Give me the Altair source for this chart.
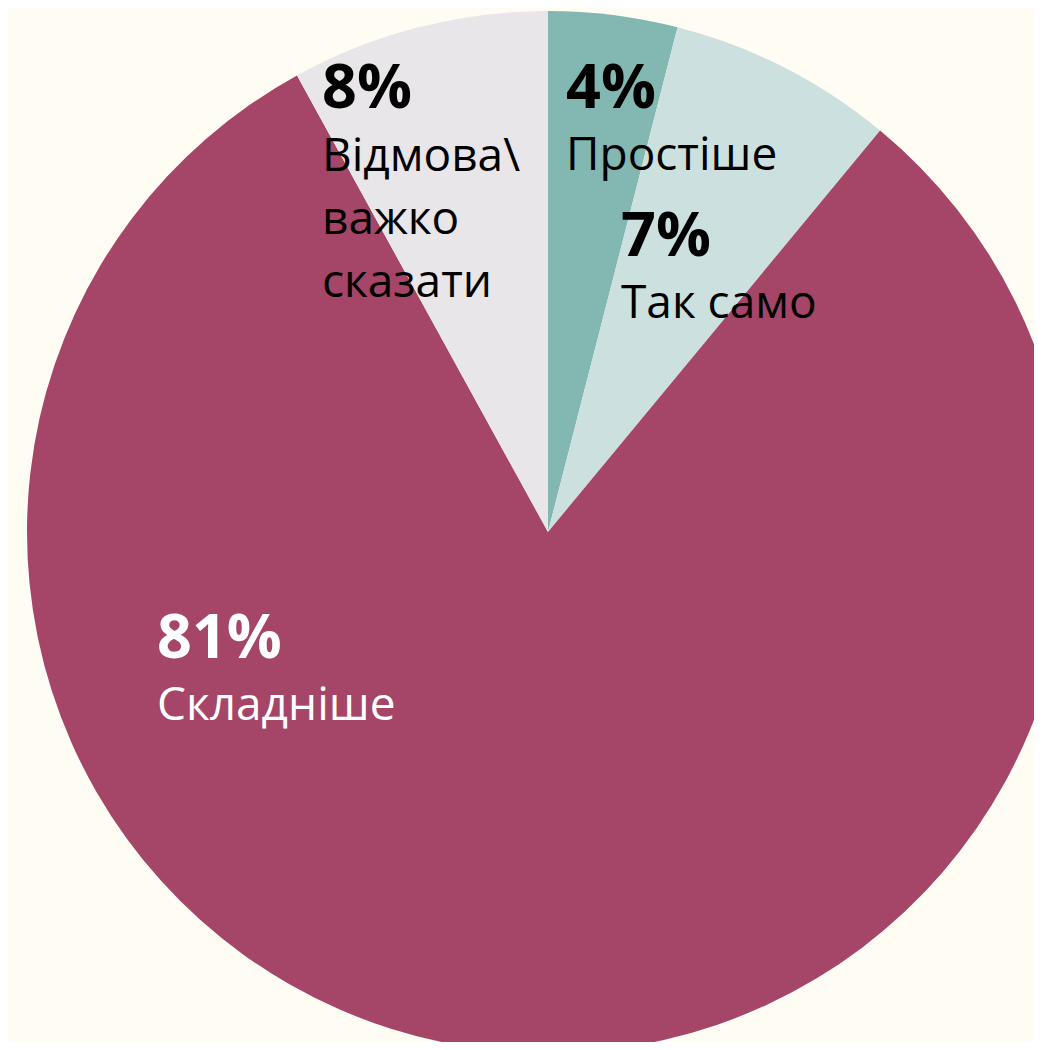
import altair as alt
import pandas as pd

categories = ["Простіше", "Так само", "Складніше", "Відмова\\ важко сказати"]
label_lines = ["Простіше", "Так само", "Складніше", "Відмова\\\nважко\nсказати"]
values = [4, 7, 81, 8]
slice_colors = ["#82b7b2", "#cce0df", "#a54568", "#e8e6e8"]
text_colors = ["#000000", "#000000", "#ffffff", "#000000"]

df = pd.DataFrame({
    "category": categories,
    "label": label_lines,
    "value": values,
    "order": list(range(len(categories))),
})

FONT = "Open Sans"
CX, CY, R = 540, 524, 521

base = alt.Chart(df).transform_calculate(pct="datum.value + '%'")

pie = base.mark_arc(radius=R, stroke=None).encode(
    theta=alt.Theta("value:Q", stack=True),
    order=alt.Order("order:Q"),
    color=alt.Color("category:N", scale=alt.Scale(domain=categories, range=slice_colors), legend=None),
    x=alt.value(CX),
    y=alt.value(CY),
)

# annotation anchor points (left edge, baseline) for each category's label block
anchors = {0: (558, 100, 162), 1: (613, 248, 310), 2: (149, 650, 712), 3: (314, 100, 163)}

layers = [pie]
for i, (ax, y_pct, y_lab) in anchors.items():
    sub = base.transform_filter(alt.datum.order == i)
    layers.append(
        sub.mark_text(align="left", baseline="alphabetic", font=FONT, fontSize=61,
                      fontWeight="bold", color=text_colors[i]).encode(
            x=alt.value(ax), y=alt.value(y_pct), text="pct:N")
    )
    layers.append(
        sub.mark_text(align="left", baseline="alphabetic", font=FONT, fontSize=46,
                      fontWeight="normal", color=text_colors[i], lineBreak="\n",
                      lineHeight=63).encode(
            x=alt.value(ax), y=alt.value(y_lab), text="label:N")
    )

chart = alt.layer(*layers).properties(
    width=1026, height=1034,
    autosize=alt.AutoSizeParams(type="none"),
    padding=0,
    background="#fffcf4",
).configure_view(stroke=None)

chart.save("out.html", embed_options={"renderer": "svg", "actions": False})
